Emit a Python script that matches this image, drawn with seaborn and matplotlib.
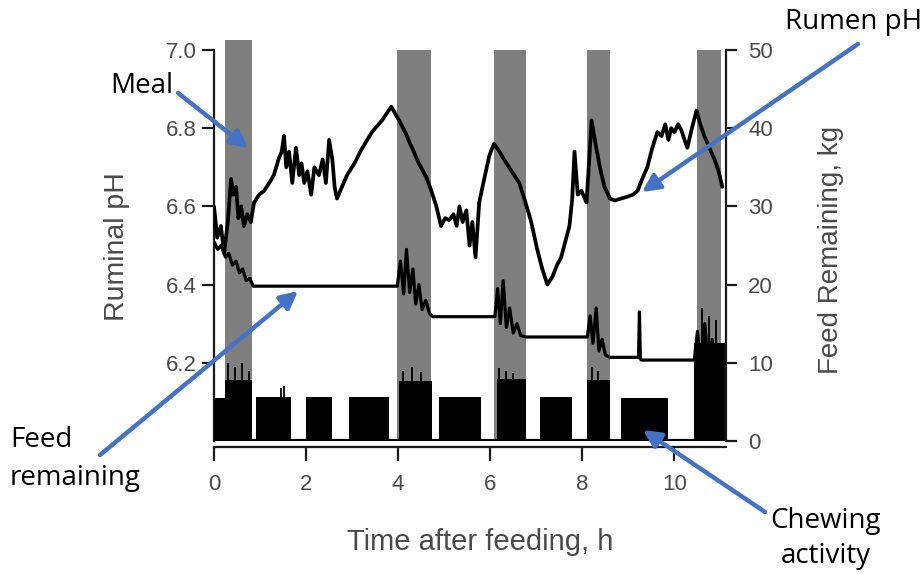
import numpy as np
import pandas as pd
import matplotlib
matplotlib.use("Agg")
import matplotlib.pyplot as plt
import seaborn as sns

# ---------------- data ----------------
ph_hours = [0.00, 0.07, 0.15, 0.22, 0.30, 0.37, 0.42, 0.48, 0.53, 0.59, 0.65, 0.72, 0.80, 0.87, 0.98,
            1.09, 1.20, 1.30, 1.40, 1.47, 1.52, 1.57, 1.63, 1.70, 1.78, 1.85, 1.90, 1.96, 2.03, 2.11,
            2.18, 2.28, 2.36, 2.43, 2.50, 2.57, 2.62, 2.67, 2.78, 2.89, 3.05, 3.20, 3.43, 3.65, 3.85,
            4.02, 4.15, 4.30, 4.45, 4.61, 4.72, 4.83, 4.93, 5.02, 5.11, 5.20, 5.27, 5.33, 5.40, 5.48,
            5.55, 5.61, 5.68, 5.76, 5.85, 5.98, 6.08, 6.20, 6.30, 6.41, 6.52, 6.63, 6.74, 6.89, 7.02,
            7.13, 7.24, 7.35, 7.45, 7.54, 7.63, 7.72, 7.78, 7.83, 7.90, 7.98, 8.09, 8.15, 8.20, 8.30,
            8.40, 8.48, 8.60, 8.70, 8.84, 8.98, 9.10, 9.20, 9.30, 9.41, 9.52, 9.63, 9.72, 9.80, 9.87,
            9.93, 10.00, 10.08, 10.15, 10.22, 10.28, 10.38, 10.48, 10.56, 10.65, 10.76, 10.87, 10.96, 11.04]
ph_values = [6.60, 6.52, 6.55, 6.48, 6.56, 6.67, 6.63, 6.65, 6.57, 6.60, 6.55, 6.58, 6.56, 6.61, 6.63,
             6.64, 6.66, 6.68, 6.72, 6.74, 6.78, 6.70, 6.74, 6.66, 6.75, 6.68, 6.71, 6.66, 6.69, 6.63,
             6.70, 6.68, 6.72, 6.66, 6.77, 6.72, 6.65, 6.62, 6.65, 6.68, 6.71, 6.745, 6.79, 6.82, 6.855,
             6.82, 6.79, 6.75, 6.71, 6.675, 6.64, 6.60, 6.55, 6.57, 6.565, 6.58, 6.55, 6.60, 6.56, 6.59,
             6.50, 6.56, 6.47, 6.61, 6.66, 6.73, 6.76, 6.74, 6.72, 6.70, 6.68, 6.66, 6.62, 6.56, 6.49,
             6.44, 6.40, 6.42, 6.45, 6.47, 6.51, 6.55, 6.62, 6.74, 6.63, 6.64, 6.61, 6.72, 6.82, 6.75,
             6.69, 6.65, 6.62, 6.615, 6.62, 6.625, 6.63, 6.64, 6.67, 6.70, 6.75, 6.79, 6.78, 6.81, 6.77,
             6.80, 6.79, 6.81, 6.795, 6.77, 6.75, 6.80, 6.845, 6.81, 6.78, 6.75, 6.72, 6.69, 6.65]

feed_hours = [0.00, 0.08, 0.15, 0.25, 0.32, 0.40, 0.48, 0.55, 0.62, 0.70, 0.78, 0.85,
              3.98, 4.05, 4.12, 4.18, 4.25, 4.32, 4.38, 4.45, 4.52, 4.60, 4.68, 4.75,
              6.10, 6.16, 6.22, 6.28, 6.35, 6.42, 6.50, 6.58, 6.66, 6.78,
              8.11, 8.17, 8.23, 8.30, 8.36, 8.43, 8.50, 8.59,
              9.22, 9.24, 9.26, 9.28,
              10.43, 10.50, 10.58, 10.66, 10.74, 10.82, 10.90, 10.98, 11.06]
feed_kg = [25.5, 24.5, 25.0, 23.5, 24.0, 22.5, 23.0, 21.5, 22.0, 20.5, 20.8, 19.8,
           19.8, 23.0, 18.8, 24.5, 19.0, 22.0, 17.5, 20.0, 16.8, 18.0, 16.3, 15.9,
           15.9, 19.5, 15.0, 20.5, 14.5, 17.0, 13.8, 15.0, 13.5, 13.3,
           13.3, 16.0, 12.5, 17.0, 11.5, 13.0, 11.0, 10.7,
           10.7, 16.5, 10.5, 10.35,
           10.35, 14.0, 9.5, 15.0, 9.0, 13.0, 8.5, 11.0, 8.0]

meal_start = [0.24, 3.98, 6.09, 8.11, 10.48]
meal_end = [0.83, 4.72, 6.78, 8.59, 11.02]

chew_start = [0.00, 0.24, 0.92, 2.00, 2.93, 4.02, 4.89, 6.15, 7.07, 8.11, 8.85, 10.43]
chew_end = [0.24, 0.83, 1.67, 2.57, 3.80, 4.74, 5.80, 6.78, 7.78, 8.59, 9.85, 11.09]
chew_kg = [5.5, 7.8, 5.6, 5.6, 5.6, 7.7, 5.6, 7.9, 5.6, 7.8, 5.5, 12.5]

spike_hours = [0.30, 0.45, 0.60, 0.75, 1.45, 1.52, 4.10, 4.30, 4.50, 6.20, 6.35, 6.50, 8.20, 8.35,
               10.60, 10.75, 10.90]
spike_kg = [10.0, 9.5, 10.0, 9.0, 6.8, 7.0, 9.0, 9.5, 8.8, 9.3, 9.0, 8.7, 9.5, 9.0,
            17.0, 16.0, 15.5]

assert len(ph_hours) == len(ph_values)
assert len(feed_hours) == len(feed_kg)

x_ticks = [0, 2, 4, 6, 8, 10]
ph_ticks = [6.2, 6.4, 6.6, 6.8, 7.0]
kg_ticks = [0, 10, 20, 30, 40, 50]

# ---------------- figure ----------------
sns.set_style("ticks")
W, H = 924, 574
fig = plt.figure(figsize=(W / 100, H / 100), dpi=100)

def fx(px):
    return px / W

def fy(py):
    return 1 - py / H

ax_l, ax_r, ax_t, ax_b = 214, 726, 50, 441
ax = fig.add_axes([fx(ax_l), fy(ax_b), fx(ax_r) - fx(ax_l), fy(ax_t) - fy(ax_b)])
ax2 = ax.twinx()

tick_color = "#4a4a4a"
axis_font = ["Liberation Sans", "DejaVu Sans"]
anno_font = ["Open Sans", "DejaVu Sans"]

# meals (gray bars) on left axis
meal_df = pd.DataFrame({"start": meal_start, "end": meal_end})
tops = [7.026] + [7.0] * (len(meal_start) - 1)
for i, r in meal_df.iterrows():
    ax.bar(r["start"], tops[i] - 6.0, width=r["end"] - r["start"], bottom=6.0, align="edge",
           color="#7f7f7f", linewidth=0, zorder=1, clip_on=False)

# pH line
ph_df = pd.DataFrame({"h": ph_hours, "pH": ph_values})
sns.lineplot(data=ph_df, x="h", y="pH", ax=ax, color="black", linewidth=2.7,
             estimator=None, sort=False, zorder=3)

# chewing activity
chew_df = pd.DataFrame({"start": chew_start, "end": chew_end, "kg": chew_kg})
ax2.bar(chew_df["start"], chew_df["kg"], width=chew_df["end"] - chew_df["start"], align="edge",
        color="black", linewidth=0, zorder=2)
ax2.vlines(spike_hours, 0, spike_kg, colors="black", linewidth=1.3, zorder=2)
ax2.axhline(0, color="black", linewidth=3, zorder=2)

# feed remaining
feed_df = pd.DataFrame({"h": feed_hours, "kg": feed_kg})
sns.lineplot(data=feed_df, x="h", y="kg", ax=ax2, color="black", linewidth=2.3,
             estimator=None, sort=False, zorder=3)

# axes limits and ticks
ax.set_xlim(0, 11.12)
ax.set_ylim(6.0, 7.0)
ax2.set_ylim(0, 50)
ax.set_xticks(x_ticks)
ax.set_xticklabels([str(t) for t in x_ticks])
ax.set_yticks(ph_ticks)
ax.set_yticklabels([f"{t:.1f}" for t in ph_ticks])
ax2.set_yticks(kg_ticks)
ax2.set_yticklabels([str(t) for t in kg_ticks])

for a in (ax, ax2):
    a.spines["top"].set_visible(False)
    for s in a.spines.values():
        s.set_linewidth(1.6)
        s.set_color("#1a1a1a")
ax.spines["right"].set_visible(False)
ax2.spines["left"].set_visible(False)
ax2.spines["bottom"].set_visible(False)
ax.spines["bottom"].set_position(("outward", 4))

ax.tick_params(axis="x", direction="out", length=10, width=1.6, pad=10, labelsize=16,
               labelcolor=tick_color, color="#1a1a1a")
ax.tick_params(axis="y", direction="out", length=8.5, width=1.6, pad=4, labelsize=16,
               labelcolor=tick_color, color="#1a1a1a")
ax2.tick_params(axis="y", direction="out", length=8, width=1.6, pad=8, labelsize=16,
                labelcolor=tick_color, color="#1a1a1a")
for lab in ax.get_xticklabels() + ax.get_yticklabels() + ax2.get_yticklabels():
    lab.set_family(axis_font)

ax.set_xlabel("Time after feeding, h", fontsize=21, color=tick_color, family=axis_font)
ax.set_ylabel("Ruminal pH", fontsize=20.5, color=tick_color, family=axis_font)
ax2.set_ylabel("Feed Remaining, kg", fontsize=20, color=tick_color, family=axis_font)
ax.xaxis.set_label_coords((480 - ax_l) / (ax_r - ax_l), (ax_b - 528) / (ax_b - ax_t))
ax.yaxis.set_label_coords((130 - ax_l) / (ax_r - ax_l), (ax_b - 247) / (ax_b - ax_t))
ax2.yaxis.set_label_coords((818 - ax_l) / (ax_r - ax_l), (ax_b - 250) / (ax_b - ax_t))

# annotations (blue arrows)
blue = "#4472C4"
arrow = dict(arrowstyle="-|>", color=blue, lw=3.2, mutation_scale=26, shrinkA=0, shrinkB=0)

def note(tail, head):
    fig.add_artist(matplotlib.patches.FancyArrowPatch(
        (fx(tail[0]), fy(tail[1])), (fx(head[0]), fy(head[1])), transform=fig.transFigure, **arrow))

note((178, 93), (248, 148))
note((858, 44), (642, 192))
note((100, 455), (298, 291))
note((765, 512), (643, 430))

tkw = dict(fontsize=20, color="black", family=anno_font)
fig.text(fx(110), fy(86), "Meal", ha="left", va="center", **tkw)
fig.text(fx(785), fy(22), "Rumen pH", ha="left", va="center", **tkw)
fig.text(fx(10), fy(440), "Feed", ha="left", va="center", **tkw)
fig.text(fx(10), fy(478), "remaining", ha="left", va="center", **tkw)
fig.text(fx(826), fy(521), "Chewing", ha="center", va="center", **tkw)
fig.text(fx(826), fy(556), "activity", ha="center", va="center", **tkw)

fig.savefig("out.png", dpi=100)
